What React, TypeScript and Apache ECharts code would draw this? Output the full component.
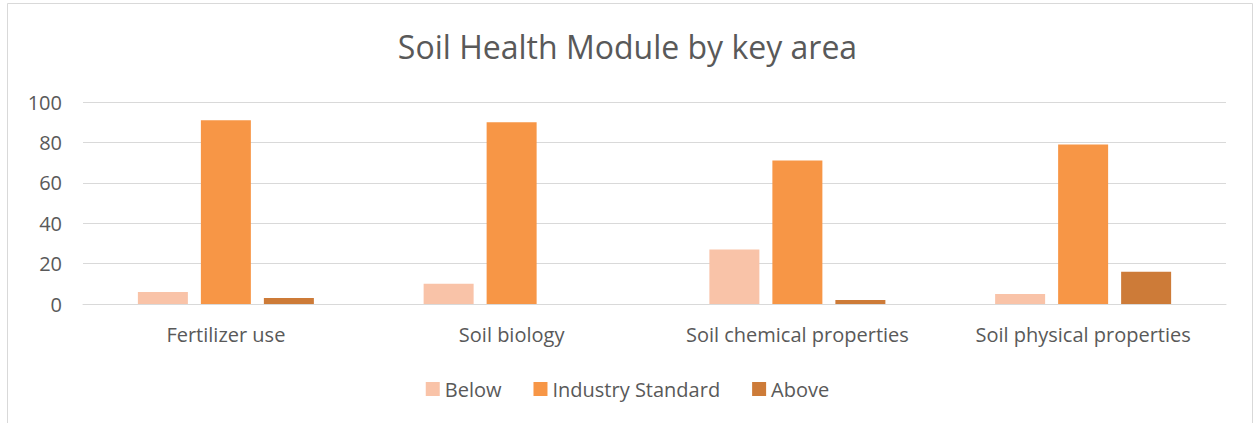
import React, { useEffect, useRef } from "react";
import * as echarts from "echarts";

const categories = ["Fertilizer use", "Soil biology", "Soil chemical properties", "Soil physical properties"];
const below = [6, 10, 27, 5];
const industryStandard = [91, 90, 71, 79];
const above = [3, 0, 2, 16];
const seriesNames = ["Below", "Industry Standard", "Above"];
const colors = ["#F9C3A8", "#F79646", "#CD7B38"];

export default function App() {
  const ref = useRef<HTMLDivElement>(null);
  useEffect(() => {
    const chart = echarts.init(ref.current!, null, { renderer: "svg" });
    const font = "'Open Sans', sans-serif";
    chart.setOption({
      animation: false,
      backgroundColor: "#ffffff",
      title: {
        text: "Soil Health Module by key area",
        left: "center",
        top: 25,
        textStyle: { fontFamily: font, fontSize: 32, fontWeight: "normal", color: "#595959" },
      },
      graphic: [
        {
          type: "rect",
          shape: { x: 7.5, y: 3.5, width: 1245, height: 440 },
          style: { fill: "none", stroke: "#D9D9D9", lineWidth: 1 },
          silent: true,
        },
      ],
      legend: {
        top: 374,
        left: "center",
        itemWidth: 14,
        itemHeight: 14,
        itemGap: 32,
        icon: "rect",
        textStyle: { fontFamily: font, fontSize: 20, color: "#595959" },
        data: seriesNames,
      },
      grid: { left: 83, right: 29, top: 102, bottom: 119, containLabel: false },
      xAxis: {
        type: "category",
        data: categories,
        axisLine: { lineStyle: { color: "#D9D9D9", width: 1 } },
        axisTick: { show: false },
        axisLabel: { fontFamily: font, fontSize: 20, color: "#595959", margin: 20, interval: 0 },
      },
      yAxis: {
        type: "value",
        min: 0,
        max: 100,
        interval: 20,
        axisLine: { show: false },
        axisTick: { show: false },
        splitLine: { lineStyle: { color: "#D9D9D9", width: 1 } },
        axisLabel: { fontFamily: font, fontSize: 20, color: "#595959", margin: 21 },
      },
      series: [below, industryStandard, above].map((d, i) => ({
        name: seriesNames[i],
        type: "bar",
        data: d,
        barWidth: 50,
        barGap: "26%",
        itemStyle: { color: colors[i] },
      })),
    });
    return () => chart.dispose();
  }, []);
  return (
    <div
      ref={ref}
      style={{ position: "fixed", left: 0, top: 0, width: 1255, height: 423 }}
    />
  );
}
